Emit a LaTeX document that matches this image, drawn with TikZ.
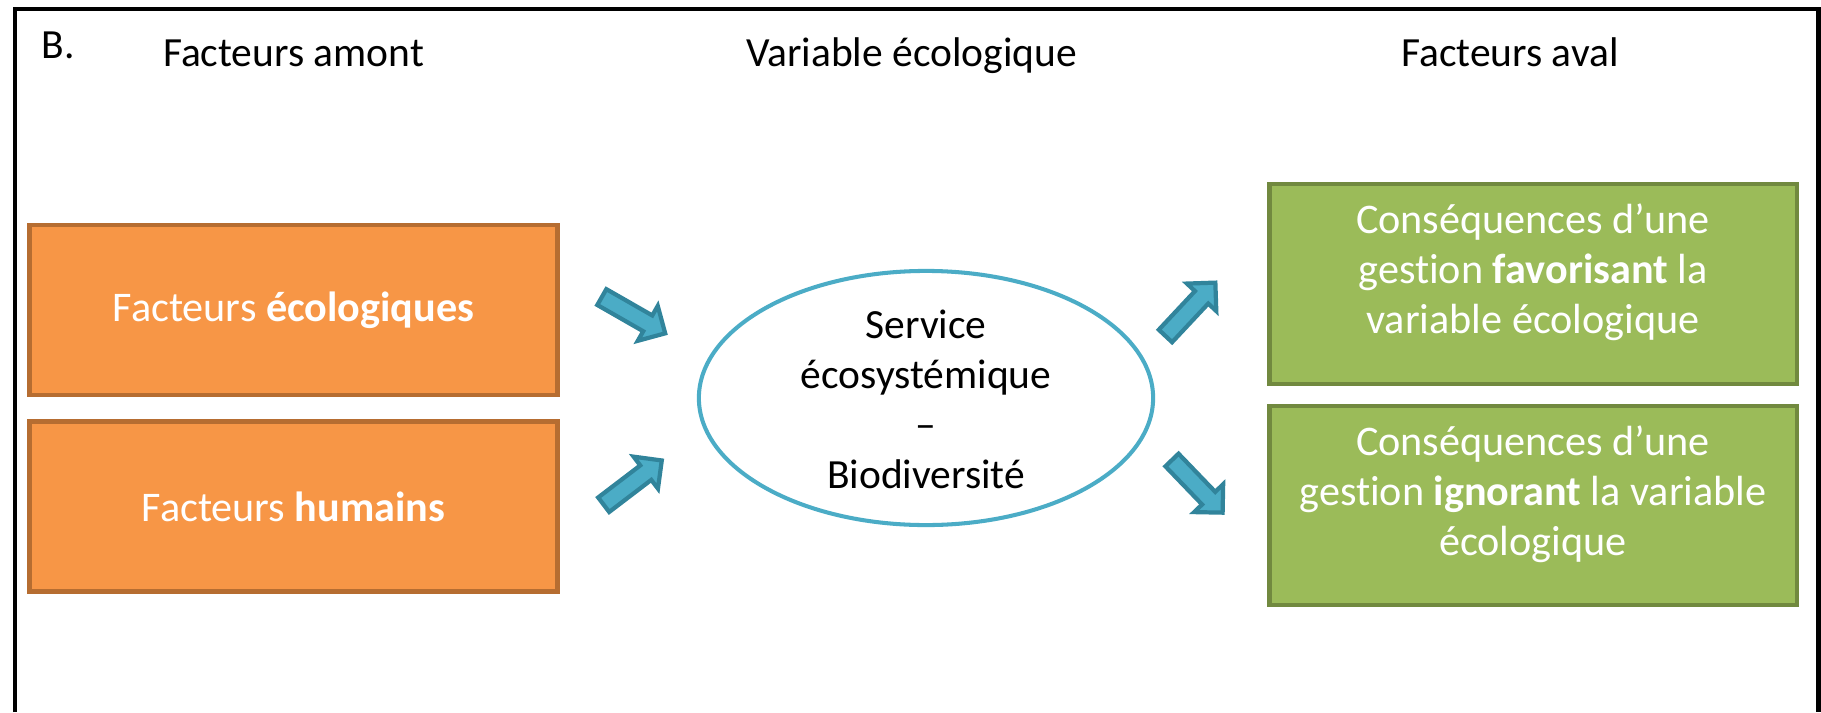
\documentclass[tikz,border=0pt]{standalone}
\usepackage{fontspec}
\setmainfont{Carlito}[Ligatures=NoCommon]
\usetikzlibrary{shapes.geometric,shapes.arrows}
\definecolor{orangefond}{HTML}{F79646}
\definecolor{orangebord}{HTML}{B66D31}
\definecolor{vertfond}{HTML}{9BBB59}
\definecolor{vertbord}{HTML}{71893F}
\definecolor{bleu}{HTML}{4BACC6}
\definecolor{bleufonce}{HTML}{31849B}
\begin{document}
\begin{tikzpicture}[x=0.01cm,y=-0.01cm,
        every node/.style={font=\fontsize{11.8}{14.2}\selectfont},
        amont/.style={draw=orangebord,fill=orangefond,line width=1.25pt,minimum width=5.28cm,minimum height=1.70cm,text=white,font=\fontsize{12}{14.2}\selectfont},
        aval/.style={draw=vertbord,fill=vertfond,line width=1.25pt,minimum width=5.27cm,minimum height=2.0cm},
        texteblanc/.style={text=white,align=center,font=\fontsize{12}{14.2}\selectfont},
        bulle/.style={ellipse,draw=bleu,fill=white,line width=1.15pt,minimum width=4.54cm,minimum height=2.54cm,inner sep=0pt},
        fleche/.style={single arrow,draw=bleufonce,fill=bleu,line width=1.2pt,minimum height=0.73cm,inner xsep=0pt,inner ysep=0.07cm,single arrow head extend=0.11cm,anchor=tail}]
        \useasboundingbox (0,0) rectangle (1821,712);
        %% frame
        \draw[line width=1.3pt] (15,712) -- (15,9.2) -- (1818.3,9.2) -- (1818.3,712);
        %% titles
        \node[anchor=base west,inner sep=0pt] (lettre) at (41,58) {B.};
        \node[anchor=base] (titreamont) at (293.5,67) {Facteurs amont};
        \node[anchor=base] (titrevar) at (911.5,67) {Variable écologique};
        \node[anchor=base] (titreaval) at (1510,67) {Facteurs aval};
        %% upstream factors
        \node[amont] (eco) at (293.5,310) {Facteurs \textbf{écologiques}};
        \node[amont] (hum) at (293.5,506.5) {Facteurs \textbf{humains}};
        %% ecological variable
        \node[bulle] (service) at (926,398) {};
        \node[align=center] (servicetexte) at (926,399) {Service\\écosystémique\\–\\Biodiversité};
        %% downstream factors
        \node[aval] (fav) at (1533.3,284) {};
        \node[texteblanc] (favtexte) at (1533,272) {Conséquences d’une\\gestion \textbf{favorisant} la\\variable écologique};
        \node[aval,minimum height=1.99cm] (ign) at (1533.3,505.5) {};
        \node[texteblanc] (igntexte) at (1533,494) {Conséquences d’une\\gestion \textbf{ignorant} la variable\\écologique};
        %% arrows
        \node[fleche,rotate=-29.8] (f1) at (600,296) {};
        \node[fleche,rotate=37.3] (f2) at (602,506) {};
        \node[fleche,rotate=46.9] (f3) at (1164,337.5) {};
        \node[fleche,rotate=-46.1] (f4) at (1170.5,458.5) {};
    \end{tikzpicture}
\end{document}
